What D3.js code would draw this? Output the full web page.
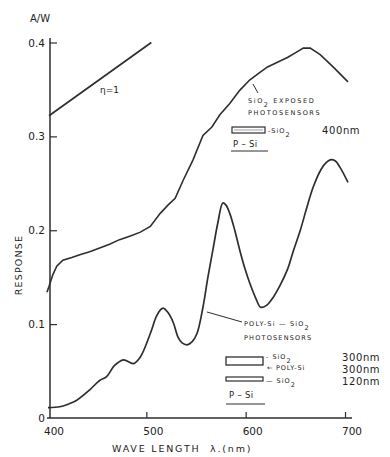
<!DOCTYPE html>
<html>
<head>
<meta charset="utf-8">
<script src="https://cdn.jsdelivr.net/npm/d3@7"></script>
<style>
  html, body { margin: 0; padding: 0; background: #fff; }
  svg { display: block; }
  text { font-family: "DejaVu Sans", sans-serif; fill: #222; }
</style>
</head>
<body>
<svg id="chart" width="390" height="457"></svg>
<script>
// wavelength (nm) / response (A/W)
const exposedLambda = [400, 402, 406, 410, 416, 425, 433, 443, 453, 463, 473, 484, 494, 504, 514, 522, 529, 537, 547, 557, 566, 574, 584, 594, 604, 613, 622, 632, 642, 650, 658, 665, 675, 688, 703];
const exposedResp   = [0.134, 0.140, 0.153, 0.162, 0.168, 0.171, 0.174, 0.177, 0.181, 0.185, 0.190, 0.194, 0.198, 0.204, 0.218, 0.227, 0.234, 0.253, 0.275, 0.301, 0.310, 0.323, 0.335, 0.349, 0.360, 0.367, 0.374, 0.379, 0.384, 0.389, 0.394, 0.394, 0.387, 0.374, 0.358];

const polyLambda = [401, 413, 422, 430, 443, 453, 460, 468, 477, 487, 494, 504, 510, 514, 517, 522, 527, 532, 536, 541, 546, 551, 557, 562, 567, 572, 577, 580, 584, 589, 594, 599, 604, 610, 615, 621, 628, 635, 642, 648, 655, 661, 668, 676, 681, 685, 690, 695, 703];
const polyResp   = [0.011, 0.012, 0.015, 0.019, 0.030, 0.040, 0.044, 0.056, 0.062, 0.058, 0.065, 0.090, 0.108, 0.115, 0.117, 0.112, 0.102, 0.086, 0.080, 0.078, 0.081, 0.090, 0.118, 0.150, 0.179, 0.208, 0.229, 0.227, 0.218, 0.200, 0.179, 0.160, 0.144, 0.128, 0.118, 0.120, 0.129, 0.142, 0.158, 0.178, 0.200, 0.222, 0.246, 0.265, 0.272, 0.275, 0.274, 0.267, 0.251];

// quantum efficiency = 1 reference line
const etaLambda = [402, 505];
const etaResp   = [0.322, 0.400];

const xTicks = [400, 500, 600, 700];
const yTicks = [0, 0.1, 0.2, 0.3, 0.4];
const yTickLabels = ["0", "0.1", "0.2", "0.3", "0.4"];

const ink = "#2e2e2e";
const svg = d3.select("#chart");

const x = d3.scaleLinear().domain([400, 700]).range([47, 345]);
const y = d3.scaleLinear().domain([0, 0.4]).range([418, 42.5]);

// ticks sit inside the plot, so the domain lines are drawn separately
const xAxis = d3.axisTop(x).tickValues(xTicks.slice(1)).tickSize(6).tickFormat("");
svg.append("g").attr("transform", "translate(0,418)").call(xAxis)
  .call(g => g.select(".domain").remove())
  .selectAll("line").attr("stroke", ink).attr("stroke-width", 1.2);
svg.append("line").attr("x1", x(400)).attr("x2", 352).attr("y1", 418).attr("y2", 418)
  .attr("stroke", ink).attr("stroke-width", 1.5);

const yAxis = d3.axisRight(y).tickValues(yTicks.slice(1)).tickSize(7).tickFormat("");
svg.append("g").attr("transform", "translate(50,0)").call(yAxis)
  .call(g => g.select(".domain").remove())
  .selectAll("line").attr("stroke", ink).attr("stroke-width", 1.2);
svg.append("line").attr("x1", 50).attr("x2", 50).attr("y1", 38).attr("y2", 418)
  .attr("stroke", ink).attr("stroke-width", 1.5);

svg.append("g").selectAll("text").data(xTicks).join("text")
  .attr("x", d => x(d) + 7).attr("y", 435)
  .attr("text-anchor", "middle").attr("font-size", 10.5)
  .text(d => d);

svg.append("g").selectAll("text").data(yTicks).join("text")
  .attr("x", 45).attr("y", d => y(d) + 4)
  .attr("text-anchor", "end").attr("font-size", 10.5)
  .text((d, i) => yTickLabels[i]);

svg.append("text").attr("x", 30).attr("y", 22).attr("font-size", 10).text("A/W");
svg.append("text").attr("transform", "translate(22,265) rotate(-90)")
  .attr("text-anchor", "middle").attr("font-size", 9.5).attr("letter-spacing", 1.2)
  .text("RESPONSE");
svg.append("text").attr("x", 112).attr("y", 452).attr("font-size", 9.5)
  .attr("letter-spacing", 1.8).attr("xml:space", "preserve")
  .text("WAVE LENGTH  λ.(nm)");

const line = d3.line().x(d => x(d[0])).y(d => y(d[1]));

svg.append("path").datum(d3.zip(etaLambda, etaResp))
  .attr("d", line).attr("fill", "none").attr("stroke", ink).attr("stroke-width", 1.7);

svg.append("path").datum(d3.zip(exposedLambda, exposedResp))
  .attr("d", line).attr("fill", "none").attr("stroke", ink).attr("stroke-width", 1.6);

svg.append("path").datum(d3.zip(polyLambda, polyResp))
  .attr("d", line.curve(d3.curveCatmullRom)).attr("fill", "none")
  .attr("stroke", ink).attr("stroke-width", 1.7);

svg.append("text").attr("x", 100).attr("y", 93).attr("font-size", 9).text("η=1");

// upper annotation
const ann = svg.append("g").attr("font-size", 6.5).attr("letter-spacing", 1.6);
ann.append("line").attr("x1", 253).attr("y1", 84).attr("x2", 258).attr("y2", 93)
  .attr("stroke", ink).attr("stroke-width", 1);
ann.append("text").attr("x", 248).attr("y", 103).html('SiO<tspan baseline-shift="sub" font-size="6.5">2</tspan> EXPOSED');
ann.append("text").attr("x", 248).attr("y", 115).text("PHOTOSENSORS");
ann.append("rect").attr("x", 232).attr("y", 127).attr("width", 33).attr("height", 6)
  .attr("fill", "none").attr("stroke", ink).attr("stroke-width", 1.2);
ann.append("line").attr("x1", 234).attr("x2", 263).attr("y1", 130).attr("y2", 130)
  .attr("stroke", "#888").attr("stroke-width", 0.8);
ann.append("text").attr("x", 268).attr("y", 133).attr("letter-spacing", 1).html('-SiO<tspan baseline-shift="sub" font-size="6.5">2</tspan>');
ann.append("text").attr("x", 322).attr("y", 134).attr("font-size", 10).attr("letter-spacing", 0.6).text("400nm");
ann.append("text").attr("x", 233).attr("y", 147).attr("font-size", 8.5).attr("letter-spacing", 0.3).text("P – Si");
ann.append("line").attr("x1", 231).attr("x2", 268).attr("y1", 151).attr("y2", 151)
  .attr("stroke", ink).attr("stroke-width", 1);

// lower annotation
const ann2 = svg.append("g").attr("font-size", 6.5).attr("letter-spacing", 1.2);
ann2.append("line").attr("x1", 207).attr("y1", 312).attr("x2", 242).attr("y2", 322)
  .attr("stroke", ink).attr("stroke-width", 1);
ann2.append("text").attr("x", 244).attr("y", 326).html('POLY-Si — SiO<tspan baseline-shift="sub" font-size="6.5">2</tspan>');
ann2.append("text").attr("x", 244).attr("y", 340).text("PHOTOSENSORS");
ann2.append("rect").attr("x", 226).attr("y", 357).attr("width", 37).attr("height", 8)
  .attr("fill", "none").attr("stroke", ink).attr("stroke-width", 1.3);
ann2.append("text").attr("x", 266).attr("y", 359).attr("letter-spacing", 1).html('- SiO<tspan baseline-shift="sub" font-size="6.5">2</tspan>');
ann2.append("text").attr("x", 267).attr("y", 370).attr("letter-spacing", 0.8).text("← POLY-Si");
ann2.append("rect").attr("x", 226).attr("y", 377).attr("width", 37).attr("height", 4)
  .attr("fill", "none").attr("stroke", ink).attr("stroke-width", 1.2);
ann2.append("text").attr("x", 266).attr("y", 383).attr("letter-spacing", 1).html('— SiO<tspan baseline-shift="sub" font-size="6.5">2</tspan>');
ann2.append("g").attr("font-size", 10).attr("letter-spacing", 0.6)
  .selectAll("text").data(["300nm", "300nm", "120nm"]).join("text")
  .attr("x", 342).attr("y", (d, i) => 361 + i * 12).text(d => d);
ann2.append("text").attr("x", 229).attr("y", 398).attr("font-size", 8.5).attr("letter-spacing", 0.3).text("P – Si");
ann2.append("line").attr("x1", 226).attr("x2", 265).attr("y1", 404).attr("y2", 404)
  .attr("stroke", ink).attr("stroke-width", 1);
</script>
</body>
</html>
